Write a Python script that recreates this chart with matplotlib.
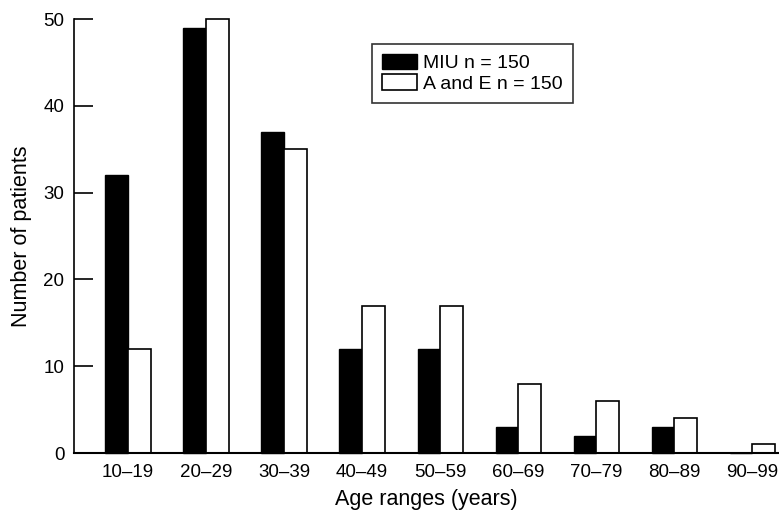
import matplotlib.pyplot as plt
import numpy as np

plt.rcParams['font.family'] = ['Liberation Sans', 'DejaVu Sans']

age_ranges = ['10–19', '20–29', '30–39', '40–49', '50–59', '60–69', '70–79', '80–89', '90–99']
miu = [32, 49, 37, 12, 12, 3, 2, 3, 0]
ae = [12, 50, 35, 17, 17, 8, 6, 4, 1]

fig = plt.figure(figsize=(7.79, 5.16), dpi=100)
ax = fig.add_axes([0.095, 0.122, 0.904, 0.841])

x = np.arange(len(age_ranges))
w = 0.29
ax.bar(x - w / 2, miu, w, color='black', edgecolor='black', linewidth=1, label='MIU n = 150', clip_on=False)
ax.bar(x + w / 2, ae, w, color='white', edgecolor='black', linewidth=1.2, label='A and E n = 150', clip_on=False)

ax.set_xlim(-0.69, 8.33)
ax.set_ylim(0, 50)
ax.set_yticks([0, 10, 20, 30, 40, 50])
ax.set_xticks(x)
ax.set_xticklabels(age_ranges)

for s in ['top', 'right']:
    ax.spines[s].set_visible(False)
ax.spines['left'].set_linewidth(1.2)
ax.spines['bottom'].set_linewidth(1.5)

ax.tick_params(axis='y', direction='in', length=14, width=1.2, labelsize=13.5, pad=7)
ax.tick_params(axis='x', length=0, labelsize=13.5, pad=8)

ax.set_xlabel('Age ranges (years)', fontsize=15.5, labelpad=6)
ax.set_ylabel('Number of patients', fontsize=15.5, labelpad=8)

leg = ax.legend(loc='upper left', bbox_to_anchor=(0.423, 0.942), fontsize=14,
                frameon=True, fancybox=False, edgecolor='black',
                handlelength=1.8, handleheight=0.85, handletextpad=0.35,
                borderpad=0.5, labelspacing=0.1, borderaxespad=0)
leg.get_frame().set_linewidth(1.2)

fig.savefig('out.png', dpi=100)
